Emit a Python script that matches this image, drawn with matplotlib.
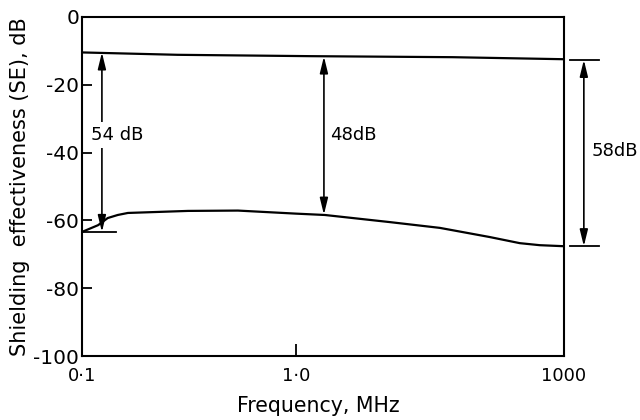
import numpy as np
import matplotlib
matplotlib.use("Agg")
import matplotlib.pyplot as plt
from matplotlib import font_manager

# ---- data (frequency in MHz, shielding effectiveness in dB) ----
upper_freq = [0.1, 0.28, 1.47, 57, 1000]
upper_se = [-10.5, -11.2, -11.6, -11.9, -12.5]

lower_freq = [0.1, 0.119, 0.132, 0.147, 0.164, 0.227, 0.313, 0.536, 1.0,
              2.11, 11.3, 40.9, 148, 321, 538, 1000]
lower_se = [-63.4, -61.4, -59.3, -58.4, -57.8, -57.5, -57.2, -57.1, -58.0,
            -58.4, -60.5, -62.2, -64.9, -66.7, -67.3, -67.6]

x_ticks = [0.1, 1.0, 1000]
x_tick_labels = ["0\u00b71", "1\u00b70", "1000"]
y_ticks = [0, -20, -40, -60, -80, -100]
y_tick_labels = ["0", "-20", "-40", "-60", "-80", "-100"]

# dimension arrows: (frequency, top dB, bottom dB, label)
dim_54 = (0.124, -10.5, -63.4, "54 dB")
dim_48 = (2.06, -11.7, -58.3, "48dB")
dim_58 = (1675, -12.7, -67.6, "58dB")

# ---- broken log frequency scale (0.1-1 decade stretched) ----
SPLIT = 0.444


def fwd(f):
    f = np.asarray(f, dtype=float)
    lf = np.log10(np.clip(f, 1e-6, None))
    return np.where(lf <= 0, SPLIT * (lf + 1), SPLIT + (1 - SPLIT) * lf / 3.0)


def inv(p):
    p = np.asarray(p, dtype=float)
    return np.where(p <= SPLIT, 10 ** (p / SPLIT - 1),
                    10 ** ((p - SPLIT) * 3.0 / (1 - SPLIT)))


available = {f.name for f in font_manager.fontManager.ttflist}
narrow = 'DejaVu Sans'
for cand in ['Liberation Sans Narrow', 'DejaVu Sans Condensed']:
    if cand in available:
        narrow = cand
        break

plt.rcParams['font.family'] = ['DejaVu Sans']
fig = plt.figure(figsize=(6.4, 4.2), dpi=100)
ax = fig.add_axes([0.128, 0.152, 0.753, 0.808])
ax.set_xscale('function', functions=(fwd, inv))

lw = 1.6
ax.plot(upper_freq, upper_se, color='black', lw=lw, solid_joinstyle='round')
ax.plot(lower_freq, lower_se, color='black', lw=lw, solid_joinstyle='round')

ax.set_xlim(0.1, 1000)
ax.set_ylim(-100, 0)
ax.set_xticks(x_ticks)
ax.set_xticklabels(x_tick_labels, fontsize=13, family=narrow)
ax.set_yticks(y_ticks)
ax.set_yticklabels(y_tick_labels, fontsize=14.5, family=narrow)
ax.minorticks_off()
ax.tick_params(axis='y', direction='in', length=7, width=1.3, pad=2)
ax.tick_params(axis='x', direction='in', length=9, width=1.3, pad=8)
for s in ax.spines.values():
    s.set_linewidth(1.5)

ax.set_ylabel("Shielding  effectiveness (SE), dB", fontsize=15)
ax.yaxis.set_label_coords(-0.108, 0.5)
ax.set_xlabel("Frequency, MHz", fontsize=14.8)
ax.xaxis.set_label_coords(0.49, -0.118)

astyle = '<|-|>,head_length=0.9,head_width=0.22'
aprops = dict(arrowstyle=astyle, color='black', lw=1.2, mutation_scale=11,
              shrinkA=0, shrinkB=0)

# 54 dB arrow with bar at bottom
f, top, bot, lab = dim_54
ax.annotate("", xy=(f, top), xytext=(f, bot), arrowprops=aprops)
ax.plot([0.1, 0.145], [bot, bot], color='black', lw=1.3)
ax.text(0.110, -34.8, lab, fontsize=13, family=narrow, ha='left', va='center',
        bbox=dict(facecolor='white', edgecolor='none', pad=3))

# 48 dB arrow
f, top, bot, lab = dim_48
ax.annotate("", xy=(f, top), xytext=(f, bot), arrowprops=aprops)
ax.text(2.39, -34.8, lab, fontsize=13, family=narrow, ha='left', va='center')

# 58 dB arrow outside the axes
f, top, bot, lab = dim_58
ax.annotate("", xy=(f, top), xytext=(f, bot), arrowprops=aprops,
            annotation_clip=False)
ax.plot([1180, 2500], [top, top], color='black', lw=1.3, clip_on=False)
ax.plot([1180, 2500], [bot, bot], color='black', lw=1.3, clip_on=False)
ax.text(2055, -39.5, lab, fontsize=13, family=narrow, ha='left', va='center',
        clip_on=False)

fig.savefig("out.png", dpi=100)
